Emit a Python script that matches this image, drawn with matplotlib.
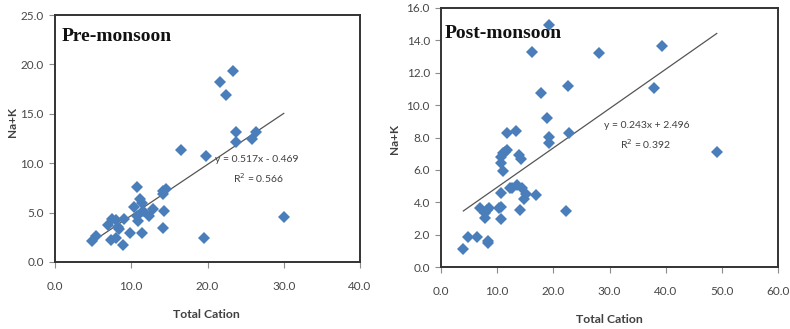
import numpy as np
import matplotlib
matplotlib.use("Agg")
from matplotlib import pyplot as plt
from matplotlib.ticker import FormatStrFormatter

# Pre-monsoon samples: total cation vs Na+K
pre_cation = [4.9, 5.4, 6.9, 7.5, 8.0, 7.4, 8.0, 8.4, 8.2, 8.9, 9.1, 9.8,
              10.3, 10.7, 10.7, 10.9, 11.1, 11.4, 11.4, 11.6, 12.3, 12.9,
              14.1, 14.2, 14.5, 14.3, 14.2, 16.5, 19.6, 19.8, 21.7, 22.4,
              23.3, 23.7, 23.8, 25.9, 26.4, 30.0]
pre_nak = [2.13, 2.64, 3.79, 4.34, 4.23, 2.20, 2.47, 3.29, 3.55, 1.69, 4.34, 2.98,
           5.56, 7.62, 4.64, 4.10, 6.33, 5.93, 2.98, 5.18, 4.67, 5.35,
           7.22, 6.88, 7.38, 5.15, 3.49, 11.35, 2.47, 10.74, 18.19, 16.94,
           19.31, 13.18, 12.13, 12.43, 13.18, 4.57]

# Post-monsoon samples
post_cation = [3.98, 4.75, 6.36, 6.89, 7.9, 7.9, 8.26, 8.6, 8.4, 8.4, 10.4, 10.7,
               10.7, 10.7, 10.7, 10.7, 11.0, 11.1, 11.4, 11.7, 11.8, 12.2,
               12.6, 13.3, 13.5, 13.95, 14.2, 14.1, 14.5, 14.7, 15.2, 16.2,
               16.9, 17.8, 18.8, 19.2, 19.3, 19.3, 22.3, 22.6, 22.8, 28.2,
               38.0, 39.4, 49.1]
post_nak = [1.14, 1.86, 1.84, 3.65, 3.03, 3.34, 3.51, 3.65, 1.61, 1.50, 3.67, 3.72,
            2.99, 4.58, 6.81, 6.40, 5.95, 7.02, 7.12, 7.23, 8.30, 4.85,
            4.85, 8.42, 5.06, 6.90, 6.70, 3.51, 4.85, 4.23, 4.50, 13.27,
            4.44, 10.73, 9.19, 14.93, 8.01, 7.64, 3.43, 11.19, 8.30, 13.21,
            11.07, 13.67, 7.08]

# fitted trendlines (slope, intercept, r2)
pre_fit = (0.517, -0.469, 0.566)
post_fit = (0.243, 2.496, 0.392)

pre_xticks = [0, 10, 20, 30, 40]
pre_yticks = [0, 5, 10, 15, 20, 25]
post_xticks = [0, 10, 20, 30, 40, 50, 60]
post_yticks = [0, 2, 4, 6, 8, 10, 12, 14, 16]

plt.rcParams['font.family'] = ['Lato', 'DejaVu Sans']

BLUE = '#4a7ebb'
TICK_GREY = '#474747'

fig = plt.figure(figsize=(7.9, 3.29), dpi=100)
ax1 = fig.add_axes([55/790, 1 - 262/329, 305/790, 247/329])
ax2 = fig.add_axes([441/790, 1 - 267/329, 337/790, 259/329])


def draw_panel(ax, x, y, fit, xticks, yticks, title, title_pos, eq_pos, r2_pos,
               ylab_pos, xlab_pos):
    slope, icpt, r2 = fit
    ax.plot(x, y, 'D', color=BLUE, markersize=6, markeredgewidth=0, zorder=3)
    xs = np.array([min(x), max(x)])
    ax.plot(xs, slope * xs + icpt, color='#555555', linewidth=0.9, zorder=2)

    ax.set_xlim(xticks[0], xticks[-1])
    ax.set_ylim(yticks[0], yticks[-1])
    ax.set_xticks(xticks)
    ax.set_yticks(yticks)
    ax.xaxis.set_major_formatter(FormatStrFormatter('%.1f'))
    ax.yaxis.set_major_formatter(FormatStrFormatter('%.1f'))
    ax.tick_params(axis='both', direction='out', length=4, width=0.8,
                   color='#8c8c8c', labelcolor=TICK_GREY, labelsize=8.5)
    ax.tick_params(axis='x', pad=10)
    ax.tick_params(axis='y', pad=4)
    for s in ax.spines.values():
        s.set_color('#333333')
        s.set_linewidth(1.4)

    ax.set_xlabel('Total Cation', fontsize=8.8, fontweight='bold', color='#404040')
    ax.set_ylabel('Na+K', fontsize=8.5, fontweight='bold', color='#404040')
    ax.xaxis.set_label_coords(*xlab_pos)
    ax.yaxis.set_label_coords(*ylab_pos)

    ax.text(title_pos[0], title_pos[1], title, transform=ax.transAxes,
            family='Liberation Serif', fontweight='bold', fontsize=14,
            ha='left', va='center', color='#111111')
    sign = '-' if icpt < 0 else '+'
    ax.text(eq_pos[0], eq_pos[1], 'y = %.3fx %s %.3f' % (slope, sign, abs(icpt)),
            transform=ax.transAxes, fontsize=7.5, color='#404040',
            ha='center', va='center')
    ax.text(r2_pos[0], r2_pos[1], 'R$^2$ = %.3f' % r2,
            transform=ax.transAxes, fontsize=7.5, color='#404040',
            ha='center', va='center')


draw_panel(ax1, pre_cation, pre_nak, pre_fit, pre_xticks, pre_yticks,
           'Pre-monsoon', (0.023, 0.913), (0.662, 0.413), (0.666, 0.340),
           (-0.121, 0.567), (0.495, -0.190))
draw_panel(ax2, post_cation, post_nak, post_fit, post_xticks, post_yticks,
           'Post-monsoon', (0.012, 0.902), (0.611, 0.548), (0.608, 0.475),
           (-0.122, 0.494), (0.501, -0.181))

fig.savefig('out.png', dpi=100)
